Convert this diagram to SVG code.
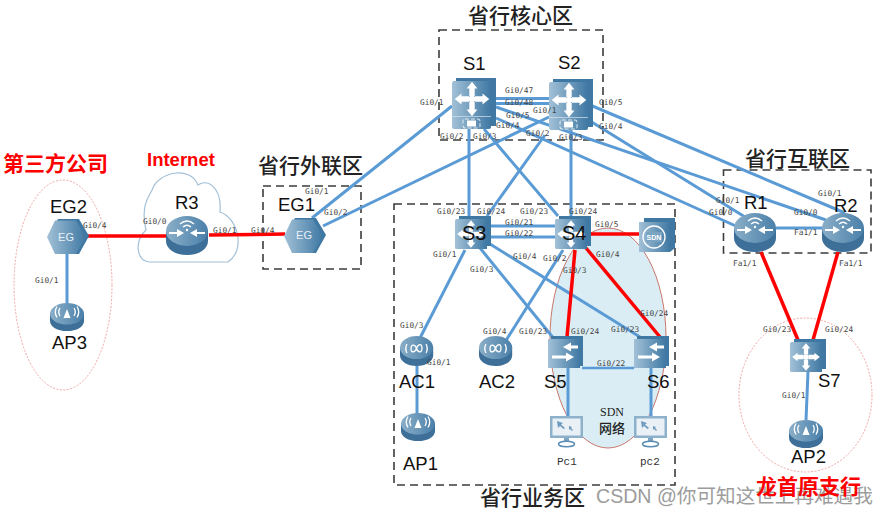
<svg xmlns="http://www.w3.org/2000/svg" width="883" height="515" viewBox="0 0 883 515">
<style>
.link{fill:none;stroke:#5b9bd5;stroke-width:3}
.thin{stroke-width:2.5}
.hot{fill:none;stroke:#fe0000;stroke-width:3.5}
.port{font:7.8px "DejaVu Sans Mono","Liberation Mono",monospace;fill:#444}
.name{font:18.500px "Liberation Sans",Arial,sans-serif;fill:#111}
.zone{font:500 21px "Noto Sans CJK SC",sans-serif;fill:#222}
.alert{font:700 21px "Noto Sans CJK SC",sans-serif;fill:#fe0000}
.box{fill:none;stroke:#3c3c3c;stroke-width:1.6;stroke-dasharray:8 5}
.ring{fill:none;stroke:#f2a6a6;stroke-width:1;stroke-dasharray:2 1.5}
.glyph{fill:#fff}
.wave{fill:none;stroke:#fff;stroke-width:1.3}
</style>
<defs>
<linearGradient id="face" x1="0" x2="1" y1="0" y2="0"><stop offset="0" stop-color="#a2c1d7"/><stop offset="1" stop-color="#3f78a3"/></linearGradient>
<linearGradient id="disc" x1="0" x2="1" y1="0" y2="0"><stop offset="0" stop-color="#8aaec8"/><stop offset="1" stop-color="#4a80a9"/></linearGradient>
<g id="arrowUp"><path class="glyph" d="M0 -11.500L-3.600 -7H-1.800V-2H1.800V-7H3.600Z"/></g>
<g id="cross">
<use href="#arrowUp"/><use href="#arrowUp" transform="rotate(90)"/><use href="#arrowUp" transform="rotate(180)"/><use href="#arrowUp" transform="rotate(270)"/>
<circle r="2.200" class="glyph"/>
</g>
<g id="core">
<path d="M4 0H44V48H37V51H4Z" fill="#3f78a3"/>
<rect x="0" y="3" width="39" height="48" rx="2" fill="url(#face)"/>
<path d="M0 38.500H39" stroke="#d6e3ee" stroke-width=".7"/>
<use href="#cross" transform="translate(20 21) scale(1.500)"/>
<rect x="15" y="42.500" width="9" height="6" fill="#fff"/>
<rect x="11" y="41" width="17" height="9" rx="2" fill="none" stroke="#fff" stroke-width=".8" stroke-dasharray="4 2"/>
</g>
<g id="dist">
<path d="M4 0H36V30H32V33H4Z" fill="#3f78a3"/>
<rect x="0" y="3" width="32" height="30" rx="1.500" fill="url(#face)"/>
<use href="#cross" transform="translate(16 18) scale(1.200)"/>
</g>
<g id="access">
<path d="M3 0H35V30H32V32H3Z" fill="#3f78a3"/>
<rect x="0" y="3" width="32" height="29" fill="url(#face)"/>
<path class="glyph" d="M29 11L21 6.500V9.500H14V12.500H21V15.500Z" transform="matrix(-1 0 0 1 44 0)"/>
<path class="glyph" d="M26 21L18 16.500V19.500H4V22.500H18V25.500Z"/>
</g>
<g id="disk">
<path d="M0 15V25C0 33 9 39 21 39S42 33 42 25V15Z" fill="#3d6f98"/>
<ellipse cx="21" cy="15" rx="21" ry="15" fill="url(#disc)"/>
</g>
<g id="router">
<use href="#disk"/>
<path class="glyph" d="M3 16H11V13L18 17L11 21V18H3Z"/>
<path class="glyph" d="M39 16H31V13L24 17L31 21V18H39Z"/>
<path class="wave" d="M14 8Q21 2 28 8M17 11Q21 7.500 25 11"/>
<circle cx="21" cy="14" r="1.200" class="glyph"/>
</g>
<g id="ap">
<use href="#disk" transform="scale(.81 .72)"/>
<path class="glyph" d="M17 6L13.500 15H20.500Z"/>
<path class="wave" d="M10 5Q7.500 9 10 13M7 3.500Q3.500 9 7 14.500M24 5Q26.500 9 24 13M27 3.500Q30.500 9 27 14.500"/>
</g>
<g id="ac">
<use href="#disk" transform="scale(.79 .77)"/>
<path class="wave" d="M11 13C11 8 15 8 16.500 12.500S22 17 22 12S18 8 16.500 12.500S11 17 11 13Z" stroke-width="1.600"/>
<path class="wave" d="M7 8Q4.500 12.500 7 17M26 8Q28.500 12.500 26 17"/>
</g>
<g id="gate">
<path d="M10 0H31L41 17L31 35H10L0 17Z" fill="#3f78a3"/>
<path d="M7 1.500H28L38 18L28 35H7L-1 18Z" fill="url(#face)"/>
</g>
<g id="term">
<rect x="0" y="0" width="33" height="22" fill="#8db0cb"/>
<rect x="2.500" y="2.500" width="28" height="17" fill="#e9f1f6"/>
<path d="M7 5L13 7L11 8.500L15 12L13.500 13L10 10L8 12Z" fill="#6f9cbf"/>
<path d="M19 10L22 11L21 12L23 14L22 15L20 13L19 14Z" fill="#6f9cbf"/>
<rect x="14" y="22" width="5" height="4" fill="#7ea5c3"/>
<ellipse cx="16.500" cy="28" rx="8" ry="2.800" fill="none" stroke="#5a8db3" stroke-width="1.500"/>
</g>
</defs>

<rect width="883" height="515" fill="#fff"/>

<g id="zones">
<rect class="box" x="439" y="30" width="164" height="110"/>
<rect class="box" x="263" y="186" width="98" height="83"/>
<rect class="box" x="723.500" y="170" width="147.500" height="83"/>
<rect class="box" x="394" y="204" width="281" height="281"/>
<ellipse class="ring" cx="63" cy="285" rx="49" ry="105"/>
<ellipse class="ring" cx="805.500" cy="395" rx="66.500" ry="77"/>
<ellipse cx="608" cy="338" rx="58" ry="110" fill="#daedf4" stroke="#c9776c" stroke-width="1"/>
<path id="cloud" d="M150 262C136 262 134 240 146 230C140 205 150 195 152 190C158 172 190 165 198 185C208 178 222 188 220 212C238 218 246 250 228 262Z" fill="#fff" stroke="#a3c0d8" stroke-width="1.200"/>
</g>

<g id="connectors">
<path class="link" d="M452 106L312 218"/>
<path class="link" d="M549 117L323 226"/>
<path class="link" d="M496 98.500H549M496 103.500H549"/>
<path class="link" d="M469 129V216M571 129V216"/>
<path class="link" d="M484 129L558 216"/>
<path class="link" d="M545 135L487 216"/>
<path class="link" d="M590 105L845 213"/>
<path class="link" d="M496 107L826 220"/>
<path class="link" d="M582 116L745 217"/>
<path class="link" d="M496 118L738 227"/>
<path class="link" d="M776 228H825"/>
<path class="link" d="M490 226H555M490 237H555"/>
<path class="link" d="M465 250L420 338"/>
<path class="link" d="M480 248L555 340"/>
<path class="link" d="M490 244L640 337"/>
<path class="link" d="M563 250L500 350"/>
<path class="link thin" d="M582 368H634"/>
<path class="link" d="M568 367V417M651 367V417"/>
<path class="link" d="M417 366V414"/>
<path class="link" d="M67 254V303"/>
<path class="link" d="M808 372L806 420"/>
<path class="hot" d="M88 236L166 236"/>
<path class="hot" d="M209 235L285 234"/>
<path class="hot" d="M591 234H640"/>
<path class="hot" d="M575 250L567 337"/>
<path class="hot" d="M586 248L660 337"/>
<path class="hot" d="M761 252L798 340"/>
<path class="hot" d="M838 252L813 340"/>
</g>

<g id="node-S1"><use href="#core" x="452" y="78"/><text class="name" x="463" y="70">S1</text></g>
<g id="node-S2"><use href="#core" x="549" y="79"/><text class="name" x="558" y="69">S2</text></g>
<g id="node-S3"><use href="#dist" x="455" y="216"/><text class="name" x="462" y="240" style="font-size:20px">S3</text></g>
<g id="node-S4"><use href="#dist" x="555" y="216"/><text class="name" x="562" y="240" style="font-size:20px">S4</text></g>
<g id="node-SDN">
<path d="M644 218H675V248L670 252H644Z" fill="#3f78a3"/>
<rect x="639" y="222" width="31" height="30" fill="url(#face)"/>
<circle cx="654" cy="237" r="11" fill="none" stroke="#fff" stroke-width="1.300"/>
<rect x="646" y="232" width="16" height="10" fill="#7ba4c3"/>
<text x="654" y="240" text-anchor="middle" style="font:700 7px 'Liberation Sans',sans-serif;fill:#fff">SDN</text>
</g>
<g id="node-S5"><use href="#access" x="548" y="336"/><text class="name" x="544" y="388">S5</text></g>
<g id="node-S6"><use href="#access" x="634" y="336"/><text class="name" x="647" y="388">S6</text></g>
<g id="node-S7"><use href="#dist" x="790" y="339"/><text class="name" x="818" y="387">S7</text></g>
<g id="node-AC1"><use href="#ac" x="400" y="336"/><text class="name" x="399" y="388">AC1</text></g>
<g id="node-AC2"><use href="#ac" x="479" y="336"/><text class="name" x="479" y="388">AC2</text></g>
<g id="node-AP1"><use href="#ap" x="401" y="413"/><text class="name" x="403" y="470">AP1</text></g>
<g id="node-AP2"><use href="#ap" x="789" y="420"/><text class="name" x="791" y="463">AP2</text></g>
<g id="node-AP3"><use href="#ap" x="50" y="303"/><text class="name" x="52" y="349">AP3</text></g>
<g id="node-R1"><use href="#router" x="734" y="213"/><text class="name" x="744" y="209">R1</text></g>
<g id="node-R2"><use href="#router" x="822" y="213"/><text class="name" x="834" y="212">R2</text></g>
<g id="node-R3"><use href="#router" x="166" y="216"/><text class="name" x="175" y="209">R3</text></g>
<g id="node-EG1"><use href="#gate" x="285" y="218"/><text class="name" x="278" y="211">EG1</text>
<text x="304" y="239" text-anchor="middle" style="font:11px 'Liberation Sans',sans-serif;fill:#e8f0f6">EG</text></g>
<g id="node-EG2"><use href="#gate" x="48" y="219"/><text class="name" x="50" y="213">EG2</text>
<text x="66" y="241" text-anchor="middle" style="font:11px 'Liberation Sans',sans-serif;fill:#e8f0f6">EG</text></g>
<g id="node-Pc1"><use href="#term" x="550" y="416"/><text x="557" y="465" style="font:11px 'Liberation Mono',monospace;fill:#333">Pc1</text></g>
<g id="node-pc2"><use href="#term" x="634" y="416"/><text x="640" y="465" style="font:11px 'Liberation Mono',monospace;fill:#333">pc2</text></g>

<g id="port-labels">
<text class="port" x="505" y="93">Gi0/47</text><text class="port" x="505" y="105">Gi0/48</text>
<text class="port" x="420" y="105">Gi0/1</text><text class="port" x="533" y="113">Gi0/1</text>
<text class="port" x="506" y="118">Gi0/5</text><text class="port" x="496" y="128">Gi0/4</text>
<text class="port" x="440" y="139">Gi0/2</text><text class="port" x="473" y="139">Gi0/3</text>
<text class="port" x="526" y="136">Gi0/2</text><text class="port" x="559" y="140">Gi0/3</text>
<text class="port" x="599" y="105">Gi0/5</text><text class="port" x="599" y="129">Gi0/4</text>
<text class="port" x="437" y="214">Gi0/23</text><text class="port" x="477" y="214">Gi0/24</text>
<text class="port" x="520" y="214">Gi0/23</text><text class="port" x="569" y="214">Gi0/24</text>
<text class="port" x="505" y="225">Gi0/21</text><text class="port" x="505" y="236">Gi0/22</text>
<text class="port" x="595" y="227">Gi0/5</text><text class="port" x="433" y="257">Gi0/1</text>
<text class="port" x="513" y="259">Gi0/4</text><text class="port" x="543" y="261">Gi0/2</text>
<text class="port" x="596" y="257">Gi0/4</text><text class="port" x="470" y="272">Gi0/3</text>
<text class="port" x="563" y="273">Gi0/3</text><text class="port" x="640" y="316">Gi0/24</text>
<text class="port" x="400" y="328">Gi0/3</text><text class="port" x="483" y="334">Gi0/4</text>
<text class="port" x="519" y="334">Gi0/23</text><text class="port" x="571" y="334">Gi0/24</text>
<text class="port" x="611" y="332">Gi0/23</text><text class="port" x="427" y="365">Gi0/1</text>
<text class="port" x="597" y="366">Gi0/22</text>
<text class="port" x="83" y="228">Gi0/4</text><text class="port" x="35" y="283">Gi0/1</text>
<text class="port" x="143" y="224">Gi0/0</text><text class="port" x="213" y="233">Gi0/1</text>
<text class="port" x="251" y="233">Gi0/4</text><text class="port" x="305" y="194">Gi0/1</text>
<text class="port" x="324" y="215">Gi0/2</text>
<text class="port" x="716" y="203">Gi0/1</text><text class="port" x="709" y="215">Gi0/0</text>
<text class="port" x="794" y="215">Gi0/0</text><text class="port" x="818" y="196">Gi0/1</text>
<text class="port" x="794" y="235">Fa1/1</text><text class="port" x="733" y="266">Fa1/1</text>
<text class="port" x="839" y="266">Fa1/1</text>
<text class="port" x="763" y="332">Gi0/23</text><text class="port" x="825" y="332">Gi0/24</text>
<text class="port" x="782" y="398">Gi0/1</text>
</g>

<g id="titles">
<text class="zone" x="468" y="23">省行核心区</text>
<text class="zone" x="258" y="173">省行外联区</text>
<text class="zone" x="745" y="166">省行互联区</text>
<text class="zone" x="480" y="505">省行业务区</text>
<text class="alert" x="3" y="171">第三方公司</text>
<text x="147" y="166" style="font:700 18.500px 'Liberation Sans',Arial,sans-serif;fill:#fe0000">Internet</text>
<text x="612" y="416" text-anchor="middle" style="font:12px 'Liberation Serif',serif;fill:#222">SDN</text>
<text x="612" y="433" text-anchor="middle" style="font:500 13px 'Noto Sans CJK SC',sans-serif;fill:#222">网络</text>
<text x="596" y="503" style="font:19.600px 'Liberation Sans','Noto Sans CJK SC',sans-serif;fill:#9c9c9c">CSDN @你可知这世上再难遇我</text>
<text class="alert" x="756" y="494">龙首原支行</text>
</g>
</svg>
